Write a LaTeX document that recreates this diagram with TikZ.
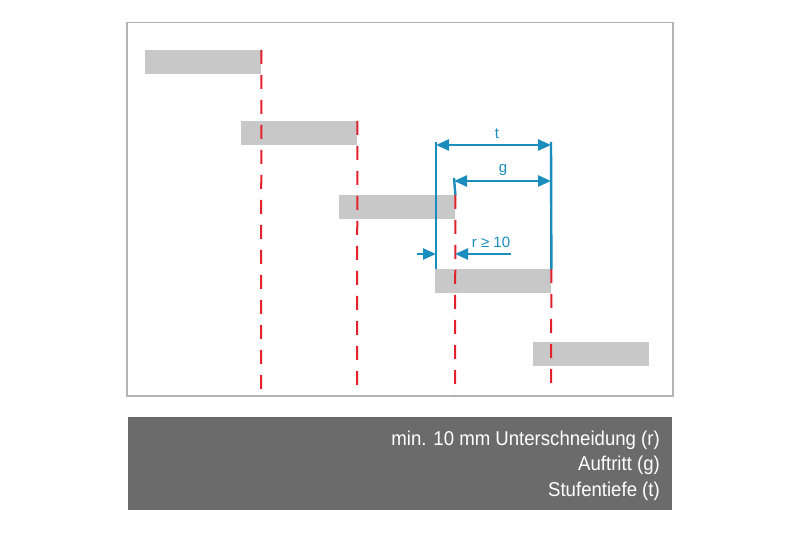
\documentclass[tikz,border=0pt]{standalone}
\usepackage{fontspec}
\setmainfont{Liberation Sans}
\usetikzlibrary{arrows.meta}
\definecolor{barg}{HTML}{C8C8C8}
\definecolor{redd}{HTML}{E2212D}
\definecolor{bluu}{HTML}{1A8CBE}
\definecolor{panel}{HTML}{6B6B6B}
\definecolor{frm}{HTML}{B4B4B4}
\begin{document}
\begin{tikzpicture}[x=1pt,y=-1pt,
  stepbar/.style={fill=barg,draw=none,inner sep=0pt,minimum width=116pt,minimum height=24pt,anchor=north west},
  reddash/.style={draw=redd,line width=2pt,dash pattern=on 14pt off 11pt},
  dimline/.style={draw=bluu,line width=2.4pt},
  dimarrow/.style={draw=bluu,line width=2.4pt,{Triangle[length=13pt,width=11pt]}-{Triangle[length=13pt,width=11pt]}},
  onearrow/.style={draw=bluu,line width=2.4pt,-{Triangle[length=13pt,width=11pt]}},
  dimlabel/.style={text=bluu,font=\fontsize{15}{17}\selectfont,inner sep=0pt},
  paneltext/.style={text=white,font=\fontsize{20}{22}\selectfont,inner sep=0pt,anchor=east,xscale=0.93}]
\useasboundingbox (0,0) rectangle (800,534);
\fill[white] (0,0) rectangle (800,534);
% frame
\node[draw=frm,line width=1.5pt,inner sep=0pt,minimum width=546pt,minimum height=373pt,anchor=north west] (frame) at (126,22) {};
% steps
\node[stepbar] (s1) at (145,50) {};
\node[stepbar] (s2) at (241,121) {};
\node[stepbar] (s3) at (339,195) {};
\node[stepbar] (s4) at (435,269) {};
\node[stepbar] (s5) at (533,342) {};
% red dashed lines
\coordinate (b1) at (261,395);
\coordinate (b2) at (357,395);
\coordinate (b3) at (455,395);
\coordinate (b4) at (551,392);
\draw[reddash] (s1.north east) -- (b1);
\draw[reddash] (s2.north east) -- (b2);
\draw[reddash] (s3.north east) -- (b3);
\draw[reddash] (s4.north east) -- (b4);
% blue dimensions
\coordinate (tl) at (436,142);
\coordinate (tr) at (551,142);
\coordinate (gl) at (454,178);
\draw[dimline] (tl) -- (s4.north west -| tl);
\draw[dimline] (tr) -- (s4.north east);
\draw[dimline] (gl) -- (s3.north east);
\coordinate (ta) at (436,145);
\coordinate (tb) at (551,145);
\draw[dimarrow] (ta) -- (tb);
\node[dimlabel] (tlab) at (497,134) {t};
\coordinate (ga) at (454,181);
\coordinate (gb) at (551,181);
\draw[dimarrow] (ga) -- (gb);
\node[dimlabel] (glab) at (503,170) {g};
\coordinate (ra) at (417,254);
\coordinate (rb) at (436,254);
\coordinate (rc) at (511,254);
\coordinate (rd) at (455,254);
\draw[onearrow] (ra) -- (rb);
\draw[onearrow] (rc) -- (rd);
\node[dimlabel] (rlab) at (491,242) {r ≥ 10};
% bottom panel
\node[fill=panel,inner sep=0pt,minimum width=544pt,minimum height=93pt,anchor=north west] (pan) at (128,417) {};
\node[paneltext] (l1) at (660,440) {min. 10 mm Unterschneidung (r)};
\node[paneltext] (l2) at (660,465) {Auftritt (g)};
\node[paneltext] (l3) at (660,491) {Stufentiefe (t)};
\end{tikzpicture}
\end{document}
